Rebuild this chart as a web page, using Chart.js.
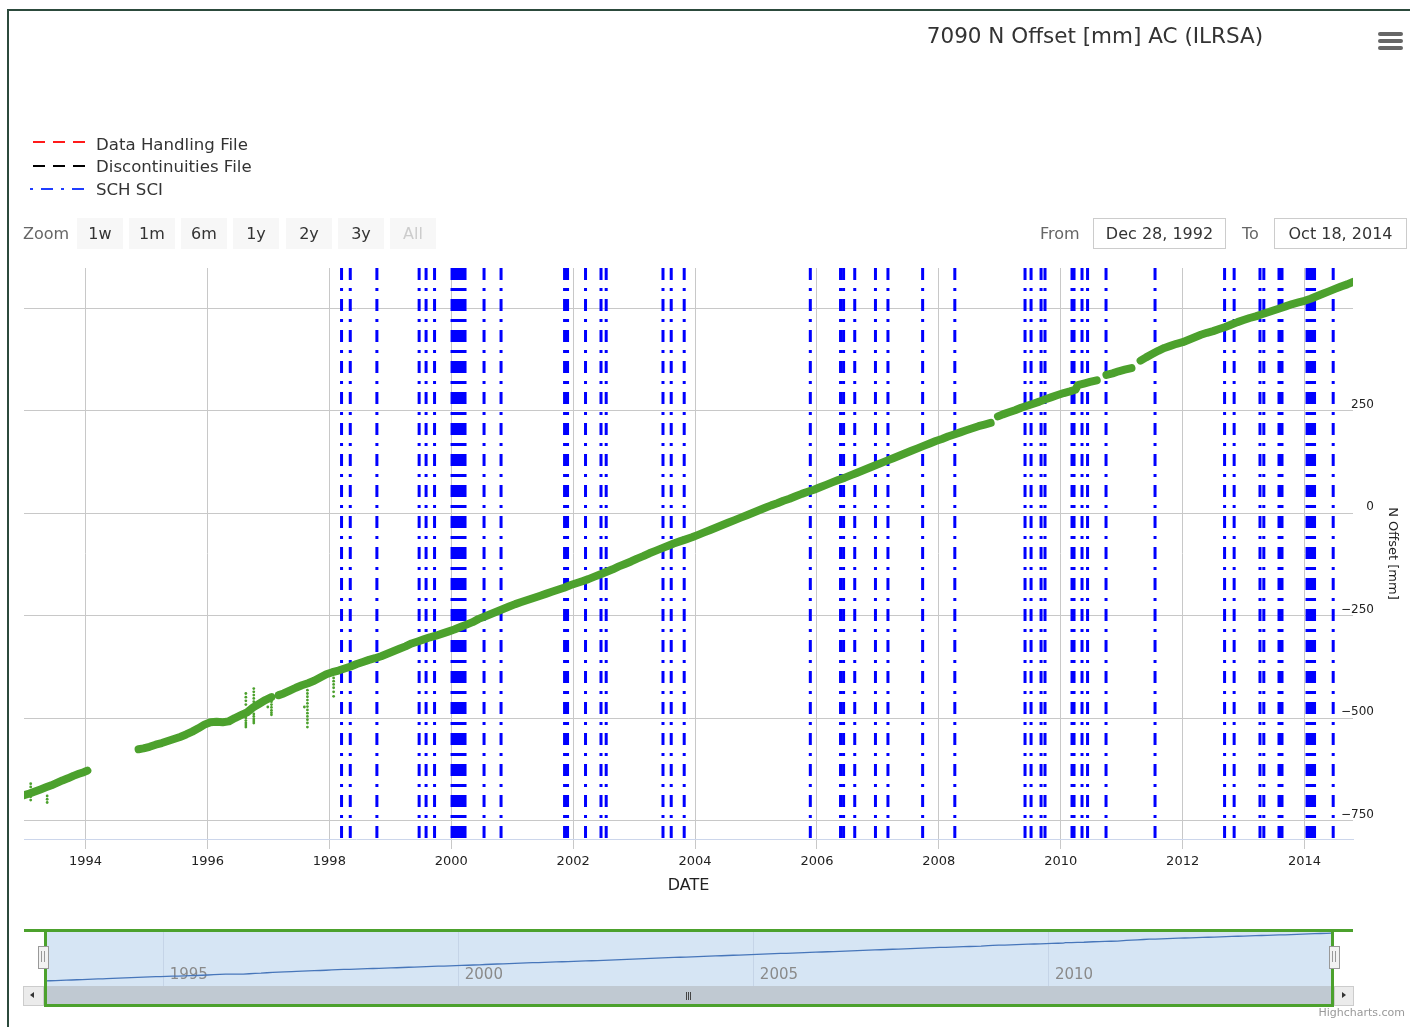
<!DOCTYPE html>
<html>
<head>
<meta charset="utf-8">
<title>7090 N Offset [mm] AC (ILRSA)</title>
<script src="https://cdn.jsdelivr.net/npm/chart.js@4.4.1/dist/chart.umd.min.js"></script>
<style>
  html, body { margin:0; padding:0; background:#fff; overflow:hidden; }
  body { width:1410px; height:1027px; position:relative; font-family:"DejaVu Sans", sans-serif; color:#333; }
  .abs { position:absolute; }
  #frameL { left:7px; top:9px; width:2px; height:1018px; background:#2c4a3c; }
  #frameT { left:7px; top:9px; width:1403px; height:2px; background:#2c4a3c; }
  #title { left:795px; top:23px; width:600px; text-align:center; font-size:21.5px; color:#333; white-space:nowrap; }
  .bar { left:1378px; width:25px; height:4px; border-radius:2px; background:#666; }
  .lgtext { left:96px; font-size:16.6px; color:#333; line-height:20px; white-space:nowrap; }
  .lgsym { left:28px; }
  .btn { top:218px; width:46px; height:31px; line-height:31px; text-align:center; background:#f7f7f7; font-size:16px; color:#333; }
  .lbl { top:218px; height:31px; line-height:31px; font-size:16px; color:#666; }
  .box { top:218px; width:131px; height:29px; line-height:29px; border:1px solid #ccc; text-align:center; font-size:16px; color:#333; background:#fff; }
  .green { background:#4ca12d; }
  #credit { right:5px; top:1006px; font-size:11px; color:#999; }
</style>
</head>
<body>
<div id="frameL" class="abs"></div>
<div id="frameT" class="abs"></div>

<canvas id="mainChart" class="abs" style="left:0;top:0" width="1410" height="1027"></canvas>

<div id="title" class="abs">7090 N Offset [mm] AC (ILRSA)</div>
<div class="abs bar" style="top:32px"></div>
<div class="abs bar" style="top:39px"></div>
<div class="abs bar" style="top:46px"></div>

<!-- legend -->
<svg class="abs lgsym" style="top:137px" width="62" height="10"><line x1="5" y1="5" x2="58" y2="5" stroke="#ff1a1a" stroke-width="2" stroke-dasharray="12 8"/></svg>
<div class="abs lgtext" style="top:135px">Data Handling File</div>
<svg class="abs lgsym" style="top:161px" width="62" height="10"><line x1="5" y1="5" x2="58" y2="5" stroke="#000" stroke-width="2" stroke-dasharray="12 8"/></svg>
<div class="abs lgtext" style="top:157px">Discontinuities File</div>
<svg class="abs lgsym" style="top:184px" width="62" height="10"><line x1="2" y1="5" x2="56" y2="5" stroke="#1f3dff" stroke-width="2" stroke-dasharray="3 8 12 8"/></svg>
<div class="abs lgtext" style="top:180px">SCH SCI</div>

<!-- range selector -->
<div class="abs lbl" style="left:23px">Zoom</div>
<div class="abs btn" style="left:77px">1w</div>
<div class="abs btn" style="left:129px">1m</div>
<div class="abs btn" style="left:181px">6m</div>
<div class="abs btn" style="left:233px">1y</div>
<div class="abs btn" style="left:286px">2y</div>
<div class="abs btn" style="left:338px">3y</div>
<div class="abs btn" style="left:390px;color:#ccc">All</div>
<div class="abs lbl" style="left:1040px">From</div>
<div class="abs box" style="left:1093px">Dec 28, 1992</div>
<div class="abs lbl" style="left:1242px">To</div>
<div class="abs box" style="left:1274px">Oct 18, 2014</div>

<!-- navigator -->
<div class="abs" style="left:45px;top:931px;width:1287px;height:56px;background:#d6e5f4"></div>
<div class="abs" style="left:45px;top:986px;width:1287px;height:19px;background:#c0c9d2"></div>
<canvas id="navChart" class="abs" style="left:24px;top:929px" width="1329" height="78"></canvas>
<div class="abs" style="left:686px;top:992px;width:1px;height:8px;background:#444"></div>
<div class="abs" style="left:688px;top:992px;width:1px;height:8px;background:#444"></div>
<div class="abs" style="left:690px;top:992px;width:1px;height:8px;background:#444"></div>
<div class="abs green" style="left:24px;top:929px;width:1329px;height:3px"></div>
<div class="abs green" style="left:44px;top:929px;width:3px;height:78px"></div>
<div class="abs green" style="left:1331px;top:929px;width:3px;height:78px"></div>
<div class="abs green" style="left:44px;top:1004px;width:1290px;height:3px"></div>
<div class="abs" style="left:23px;top:986px;width:19px;height:18px;background:#ebebeb;border:1px solid #ccc"></div>
<div class="abs" style="left:30px;top:992px;width:0;height:0;border-top:3px solid transparent;border-bottom:3px solid transparent;border-right:4px solid #333"></div>
<div class="abs" style="left:1334px;top:986px;width:18px;height:18px;background:#ebebeb;border:1px solid #ccc"></div>
<div class="abs" style="left:1342px;top:992px;width:0;height:0;border-top:3px solid transparent;border-bottom:3px solid transparent;border-left:4px solid #333"></div>
<div class="abs" style="left:38px;top:946px;width:9px;height:21px;background:#f2f2f2;border:1px solid #999"></div>
<div class="abs" style="left:41px;top:951px;width:1px;height:11px;background:#999"></div>
<div class="abs" style="left:44px;top:951px;width:1px;height:11px;background:#999"></div>
<div class="abs" style="left:1329px;top:946px;width:9px;height:21px;background:#f2f2f2;border:1px solid #999"></div>
<div class="abs" style="left:1332px;top:951px;width:1px;height:11px;background:#999"></div>
<div class="abs" style="left:1335px;top:951px;width:1px;height:11px;background:#999"></div>
<div id="credit" class="abs">Highcharts.com</div>

<script>
// Axis extent (decimal years) and y-range in millimetres
const xStart = 1992.99;   // Dec 28, 1992
const xEnd = 2014.795;    // Oct 18, 2014
const yMin = -795;
const yMax = 598;

const xTickYears = [1994, 1996, 1998, 2000, 2002, 2004, 2006, 2008, 2010, 2012, 2014];
const yTickValues = [-750, -500, -250, 0, 250, 500];
const navTickYears = [1995, 2000, 2005, 2010];

// Station 7090 north offset time series (decimal year, mm); null marks a data gap
const obsYears = [
  1992.99, 1993.08, 1993.17, 1993.26, 1993.35, 1993.44, 1993.53, 1993.62, 1993.71, 1993.80, 1993.89, 1993.97, 1994.03,
  1994.45,
  1994.87, 1994.95, 1995.05, 1995.15, 1995.25, 1995.35, 1995.45, 1995.55, 1995.65, 1995.75, 1995.85, 1995.95,
  1996.05, 1996.15, 1996.25, 1996.35, 1996.45, 1996.55, 1996.65, 1996.75, 1996.85, 1996.95, 1997.05,
  1997.10,
  1997.17, 1997.25, 1997.35, 1997.45, 1997.55, 1997.65, 1997.75, 1997.85, 1997.95,
  1998.05, 1998.15, 1998.25, 1998.35, 1998.45, 1998.55, 1998.65, 1998.75, 1998.85, 1998.95,
  1999.05, 1999.15, 1999.25, 1999.35, 1999.45, 1999.55, 1999.65, 1999.75, 1999.85, 1999.95,
  2000.05, 2000.15, 2000.25, 2000.35, 2000.45, 2000.55, 2000.65, 2000.75, 2000.85, 2000.95,
  2001.05, 2001.15, 2001.25, 2001.35, 2001.45, 2001.55, 2001.65, 2001.75, 2001.85, 2001.95,
  2002.05, 2002.15, 2002.25, 2002.35, 2002.45, 2002.55, 2002.65, 2002.75, 2002.85, 2002.95,
  2003.05, 2003.15, 2003.25, 2003.35, 2003.45, 2003.55, 2003.65, 2003.75, 2003.85, 2003.95,
  2004.05, 2004.15, 2004.25, 2004.35, 2004.45, 2004.55, 2004.65, 2004.75, 2004.85, 2004.95,
  2005.05, 2005.15, 2005.25, 2005.35, 2005.45, 2005.55, 2005.65, 2005.75, 2005.85, 2005.95,
  2006.05, 2006.15, 2006.25, 2006.35, 2006.45, 2006.55, 2006.65, 2006.75, 2006.85, 2006.95,
  2007.05, 2007.15, 2007.25, 2007.35, 2007.45, 2007.55, 2007.65, 2007.75, 2007.85, 2007.95,
  2008.05, 2008.15, 2008.25, 2008.35, 2008.45, 2008.55, 2008.65, 2008.75, 2008.85,
  2008.91,
  2008.97, 2009.05, 2009.15, 2009.25, 2009.35, 2009.45, 2009.55, 2009.65, 2009.75, 2009.85, 2009.95,
  2010.05, 2010.15, 2010.24, 2010.28, 2010.38, 2010.48, 2010.59,
  2010.67,
  2010.75, 2010.85, 2010.95, 2011.05, 2011.16,
  2011.25,
  2011.31, 2011.40, 2011.50, 2011.60, 2011.70, 2011.80, 2011.90,
  2012.00, 2012.10, 2012.20, 2012.30, 2012.40, 2012.50, 2012.60, 2012.70, 2012.80, 2012.90,
  2013.00, 2013.10, 2013.20, 2013.30, 2013.40, 2013.50, 2013.60, 2013.70, 2013.80, 2013.90,
  2014.00, 2014.10, 2014.20, 2014.30, 2014.40, 2014.50, 2014.60, 2014.70, 2014.795
];
const obsMm = [
  -688, -684, -679, -674, -669, -664, -658, -652, -647, -641, -636, -632, -628,
  null,
  -576, -574, -570, -565, -561, -556, -551, -546, -540, -533, -525, -516,
  -510, -509, -510, -508, -500, -493, -486, -474, -465, -456, -449,
  null,
  -444, -440, -433, -426, -420, -415, -409, -401, -393,
  -388, -384, -379, -374, -368, -363, -358, -354, -349, -343,
  -337, -331, -325, -318, -313, -308, -303, -299, -294, -289,
  -284, -278, -272, -266, -258, -252, -246, -240, -234, -228,
  -222, -217, -212, -207, -202, -197, -192, -187, -182, -176,
  -171, -166, -161, -155, -149, -143, -137, -130, -124, -118,
  -111, -105, -98, -92, -86, -80, -74, -69, -64, -59,
  -53, -47, -41, -35, -29, -23, -17, -11, -5, 1,
  7, 13, 19, 24, 30, 35, 41, 47, 52, 57,
  63, 69, 75, 81, 86, 92, 98, 104, 110, 116,
  122, 128, 134, 140, 146, 152, 158, 164, 170, 176,
  181, 187, 192, 197, 202, 207, 212, 216, 220,
  null,
  236, 241, 246, 251, 257, 262, 267, 272, 278, 283, 288,
  293, 297, 301, 312, 316, 320, 324,
  null,
  337, 341, 346, 350, 354,
  null,
  372, 380, 388, 396, 403, 408, 413,
  417, 423, 429, 435, 440, 444, 449, 454, 460, 466,
  471, 476, 480, 485, 490, 495, 500, 505, 510, 514,
  518, 523, 529, 535, 541, 547, 553, 558, 564
];

// Stray observations below/above the main band (decimal year, mm)
const strayYears = [
  1993.10, 1993.10, 1993.10, 1993.10, 1993.37, 1993.37, 1993.37,
  1996.63, 1996.63, 1996.63, 1996.63, 1996.63, 1996.63, 1996.63, 1996.63, 1996.63, 1996.63,
  1996.76, 1996.76, 1996.76, 1996.76, 1996.76, 1996.76, 1996.76, 1996.76, 1996.76, 1996.76,
  1996.99,
  1997.05, 1997.05, 1997.05, 1997.05, 1997.05, 1997.05,
  1997.59,
  1997.64, 1997.64, 1997.64, 1997.64, 1997.64, 1997.64, 1997.64, 1997.64, 1997.64, 1997.64, 1997.64, 1997.64,
  1998.07, 1998.07, 1998.07, 1998.07, 1998.07, 1998.07
];
const strayMm = [
  -660, -668, -692, -700, -690, -698, -706,
  -440, -449, -458, -467, -494, -500, -506, -512, -517, -522,
  -428, -436, -444, -452, -460, -490, -496, -502, -507, -512,
  -473,
  -460, -467, -474, -481, -487, -492,
  -473,
  -432, -440, -448, -456, -464, -472, -480, -488, -496, -504, -512, -522,
  -402, -410, -418, -426, -436, -447
];

// SCH SCI event epochs (decimal year)
const schSciYears = [
  1998.200, 1998.343, 1998.780, 1999.473, 1999.587, 1999.726,
  2000.013, 2000.054, 2000.095, 2000.136, 2000.177, 2000.226, 2000.538, 2000.817,
  2001.859, 2001.908, 2002.203, 2002.457, 2002.542,
  2003.474, 2003.609, 2003.822,
  2005.891, 2006.387, 2006.437, 2006.620, 2006.960, 2007.165, 2007.734, 2008.262,
  2009.414, 2009.513, 2009.677, 2009.742, 2010.185, 2010.218, 2010.349, 2010.440, 2010.743, 2011.547,
  2012.688, 2012.845, 2013.269, 2013.332, 2013.581, 2013.630,
  2014.041, 2014.082, 2014.123, 2014.164, 2014.470
];

const FONT = '"DejaVu Sans", sans-serif';
const GREEN = '#4ca12d';
const GRID = '#c8c8c8';

const obsPoints = obsYears.map((x, i) => ({ x, y: obsMm[i] }));
const strayPoints = strayYears.map((x, i) => ({ x, y: strayMm[i] }));
// each event is a full-height vertical segment, separated by a gap
const schSciPoints = [];
schSciYears.forEach(t => {
  schSciPoints.push({ x: t, y: yMax }, { x: t, y: yMin }, { x: t, y: null });
});

const fmtMm = v => v === 500 ? '' : (v < 0 ? '\u2212' + Math.abs(v) : String(v));

new Chart(document.getElementById('mainChart'), {
  type: 'line',
  data: {
    datasets: [
      { label: 'Data Handling File', data: [], borderColor: '#ff0000', borderDash: [12, 8], borderWidth: 2, pointRadius: 0 },
      { label: 'Discontinuities File', data: [], borderColor: '#000000', borderDash: [12, 8], borderWidth: 2, pointRadius: 0 },
      { label: 'SCH SCI', data: schSciPoints, borderColor: '#0000ff', borderWidth: 3, borderDash: [12, 8, 3, 8],
        borderCapStyle: 'butt', pointRadius: 0, spanGaps: false, order: 3 },
      { label: 'N Offset', data: obsPoints, borderColor: GREEN, borderWidth: 8, pointRadius: 0,
        spanGaps: false, borderJoinStyle: 'round', borderCapStyle: 'round', order: 2 },
      { label: 'N Offset (stray)', type: 'scatter', data: strayPoints, backgroundColor: GREEN, borderWidth: 0,
        pointRadius: 1.4, order: 1 }
    ]
  },
  options: {
    responsive: false,
    animation: false,
    events: [],
    layout: { padding: { left: 24, top: 268, right: 10, bottom: 132 } },
    plugins: { legend: { display: false }, tooltip: { enabled: false }, title: { display: false } },
    scales: {
      x: {
        type: 'linear', min: xStart, max: xEnd,
        afterBuildTicks: s => { s.ticks = xTickYears.map(v => ({ value: v })); },
        afterFit: s => { s.height = 56; },
        grid: { color: GRID, tickColor: GRID, tickLength: 10, drawTicks: true },
        border: { display: true, color: '#ccd6eb' },
        ticks: { color: '#222', font: { family: FONT, size: 13 }, padding: 5, maxRotation: 0, autoSkip: false,
                 callback: v => String(v) },
        title: { display: true, text: 'DATE', color: '#222', font: { family: FONT, size: 16 }, padding: 0 }
      },
      y: {
        position: 'right', min: yMin, max: yMax,
        afterBuildTicks: s => { s.ticks = yTickValues.map(v => ({ value: v })); },
        afterFit: s => { s.width = 47; },
        grid: { color: GRID, drawTicks: false },
        border: { display: false },
        ticks: { color: '#222', font: { family: FONT, size: 12 }, mirror: true, crossAlign: 'near', padding: 21,
                 labelOffset: -6, callback: fmtMm },
        title: { display: true, text: 'N Offset [mm]', color: '#222', font: { family: FONT, size: 13 }, padding: 0 }
      }
    }
  }
});

// navigator: overview of the whole series
new Chart(document.getElementById('navChart'), {
  type: 'line',
  data: {
    datasets: [
      { label: 'N Offset', data: obsPoints, borderColor: '#4776ba', borderWidth: 1.3, pointRadius: 0, spanGaps: true }
    ]
  },
  options: {
    responsive: false,
    animation: false,
    events: [],
    layout: { padding: { left: 21, right: 21, top: 2, bottom: 21 } },
    plugins: { legend: { display: false }, tooltip: { enabled: false } },
    scales: {
      x: {
        type: 'linear', min: xStart, max: xEnd,
        afterBuildTicks: s => { s.ticks = navTickYears.map(v => ({ value: v })); },
        afterFit: s => { s.height = 0; },
        grid: { color: 'rgba(120,140,170,0.18)', drawTicks: false },
        border: { display: false },
        ticks: { color: '#8a8a8a', font: { family: FONT, size: 15 }, mirror: true, padding: 2, align: 'start',
                 labelOffset: 6, maxRotation: 0, autoSkip: false, callback: v => String(v) }
      },
      y: { display: false, min: -821, max: 618 }
    }
  }
});
</script>
</body>
</html>
